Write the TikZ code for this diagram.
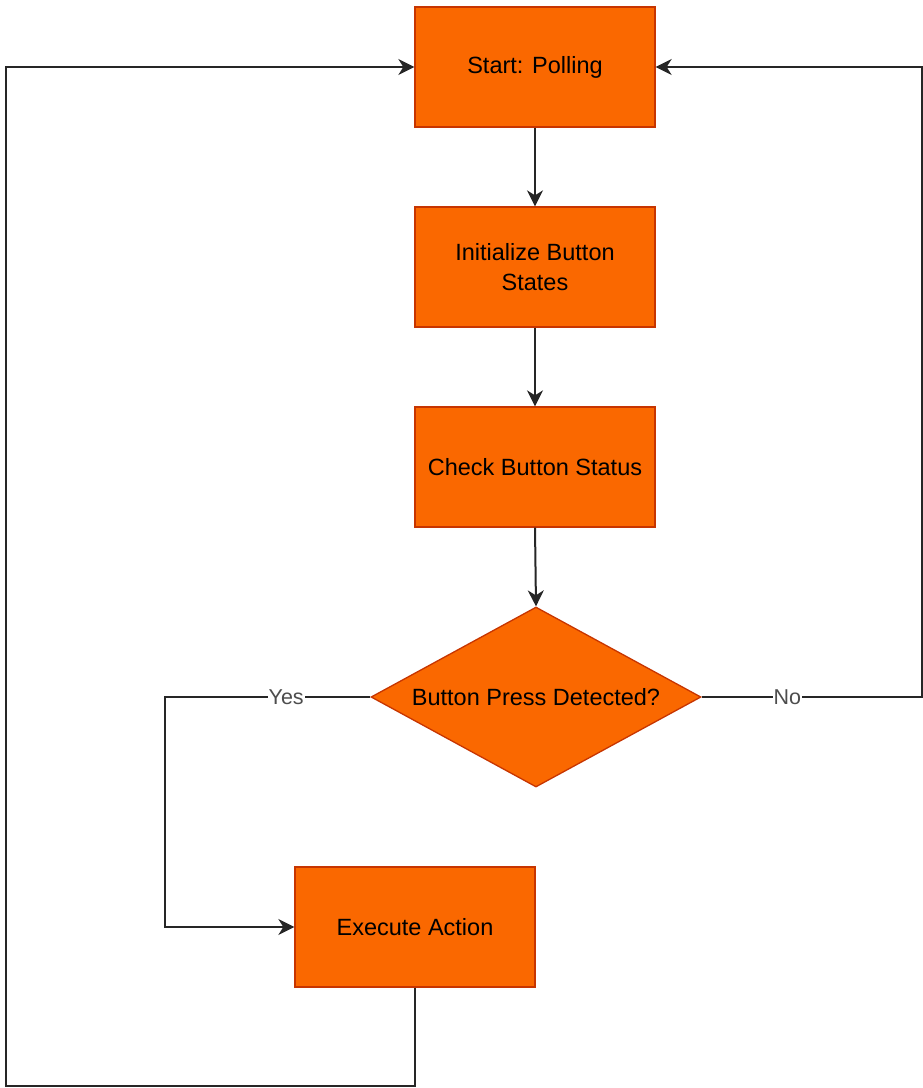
\documentclass[tikz,border=0pt]{standalone}
\usepackage{fontspec}
\setmainfont{Liberation Sans}
\usetikzlibrary{arrows.meta,shapes.geometric}
\definecolor{boxfill}{HTML}{FA6800}
\definecolor{boxline}{HTML}{C73500}
\definecolor{edgecol}{HTML}{262626}
\definecolor{lblcol}{HTML}{4D4D4D}
\tikzset{
  procbox/.style={rectangle, draw=boxline, fill=boxfill, line width=1.3pt,
    minimum width=240pt, minimum height=120pt, inner sep=0pt, align=center,
    font=\fontsize{23.5}{30}\selectfont, text=black},
  decbox/.style={diamond, draw=boxline, fill=boxfill, line width=1.3pt,
    minimum width=330pt, minimum height=180pt, inner sep=0pt},
  edge/.style={draw=edgecol, line width=2pt,
    -{Stealth[length=16pt,width=16pt,inset=5pt]}},
  lbl/.style={fill=white, inner sep=1pt, text=lblcol,
    font=\fontsize{21.5}{26}\selectfont},
}
\begin{document}
\begin{tikzpicture}[x=1pt,y=-1pt]
\useasboundingbox (0,0) rectangle (923,1088);
\node[procbox] (s) at (535,67) {Start: Polling};
\node[procbox] (i) at (535,267) {Initialize Button\\States};
\node[procbox] (c) at (535,467) {Check Button Status};
\node[decbox, label={[font=\fontsize{23.5}{30}\selectfont, text=black]center:Button Press Detected?}] (d) at (536,697) {};
\node[procbox] (e) at (415,927) {Execute Action};

\coordinate (y1) at (165,697);
\coordinate (n1) at (921.5,697);
\coordinate (n2) at (921.5,67);
\coordinate (b1) at (415,1086);
\coordinate (b2) at (6,1086);
\coordinate (b3) at (6,67);

\draw[edge] (s) -- (i);
\draw[edge] (i) -- (c);
\draw[edge] (c.south) -- (d.north);
\draw[edge] (d.west) -- node[lbl, pos=0.41] {Yes} (y1) |- (e.west);
\draw[edge] (d.east) -- node[lbl, pos=0.39] {No} (n1) -- (n2) -- (s.east);
\draw[edge] (e.south) -- (b1) -- (b2) -- (b3) -- (s.west);
\end{tikzpicture}
\end{document}
